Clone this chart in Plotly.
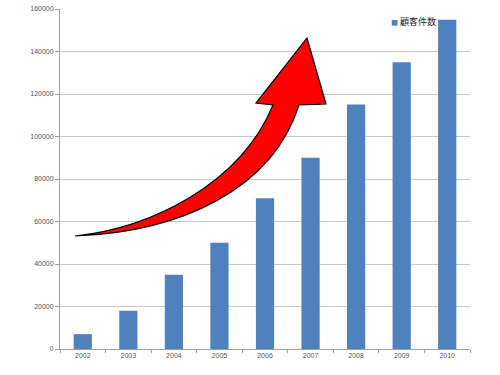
import plotly.graph_objects as go

years = ["2002", "2003", "2004", "2005", "2006", "2007", "2008", "2009", "2010"]
customers = [7000, 18000, 35000, 50000, 71000, 90000, 115000, 135000, 155000]
series_name = "顧客件数"
y_ticks = [0, 20000, 40000, 60000, 80000, 100000, 120000, 140000, 160000]

L, R, T, B = 60, 30, 9, 26
W, H = 500, 375
PW, PH = W - L - R, H - T - B


def px(x, y):
    return f"{(x - L) / PW:.4f},{(H - B - y) / PH:.4f}"


arrow_path = (
    f"M {px(75, 236)} "
    f"C {px(180, 232)} {px(272, 190)} {px(299, 105)} "
    f"L {px(326, 104)} L {px(307, 38)} L {px(256, 103)} L {px(273, 105)} "
    f"C {px(240, 185)} {px(150, 228)} {px(75, 236)} Z"
)

fig = go.Figure()
fig.add_trace(go.Bar(x=years, y=customers, name=series_name,
                     marker=dict(color="#4F81BD", line=dict(width=0)),
                     showlegend=False))

fig.add_shape(type="path", xref="paper", yref="paper", path=arrow_path,
              fillcolor="#FF0000", line=dict(color="black", width=1.2), layer="above")

fig.add_annotation(xref="paper", yref="paper", x=(389 - L) / PW, y=(H - B - 22) / PH,
                   xanchor="left", yanchor="middle", showarrow=False,
                   text=f"<span style='color:#4F81BD;font-size:7px'>■</span> {series_name}",
                   font=dict(family="Noto Sans CJK JP", size=9, color="#222222"))

fig.update_layout(
    width=W, height=H,
    margin=dict(l=L, r=R, t=T, b=B, autoexpand=False),
    paper_bgcolor="white", plot_bgcolor="white",
    bargap=0.6,
    font=dict(family="Liberation Sans", size=7, color="#555555"),
    xaxis=dict(type="category", showline=True, linecolor="#a0a0a0", linewidth=1,
               ticks="outside", ticklen=3, tickcolor="#a0a0a0", tickson="boundaries",
               showgrid=False, automargin=False, tickfont=dict(size=7, color="#555555")),
    yaxis=dict(range=[0, 160000], tickvals=y_ticks, ticktext=[str(v) for v in y_ticks],
               showline=True, linecolor="#a0a0a0", linewidth=1,
               ticks="outside", ticklen=4, tickcolor="#a0a0a0",
               showgrid=True, gridcolor="#c8c8c8", gridwidth=1, automargin=False,
               zeroline=False, tickfont=dict(size=7, color="#555555")),
)

fig.write_html("out.html")
